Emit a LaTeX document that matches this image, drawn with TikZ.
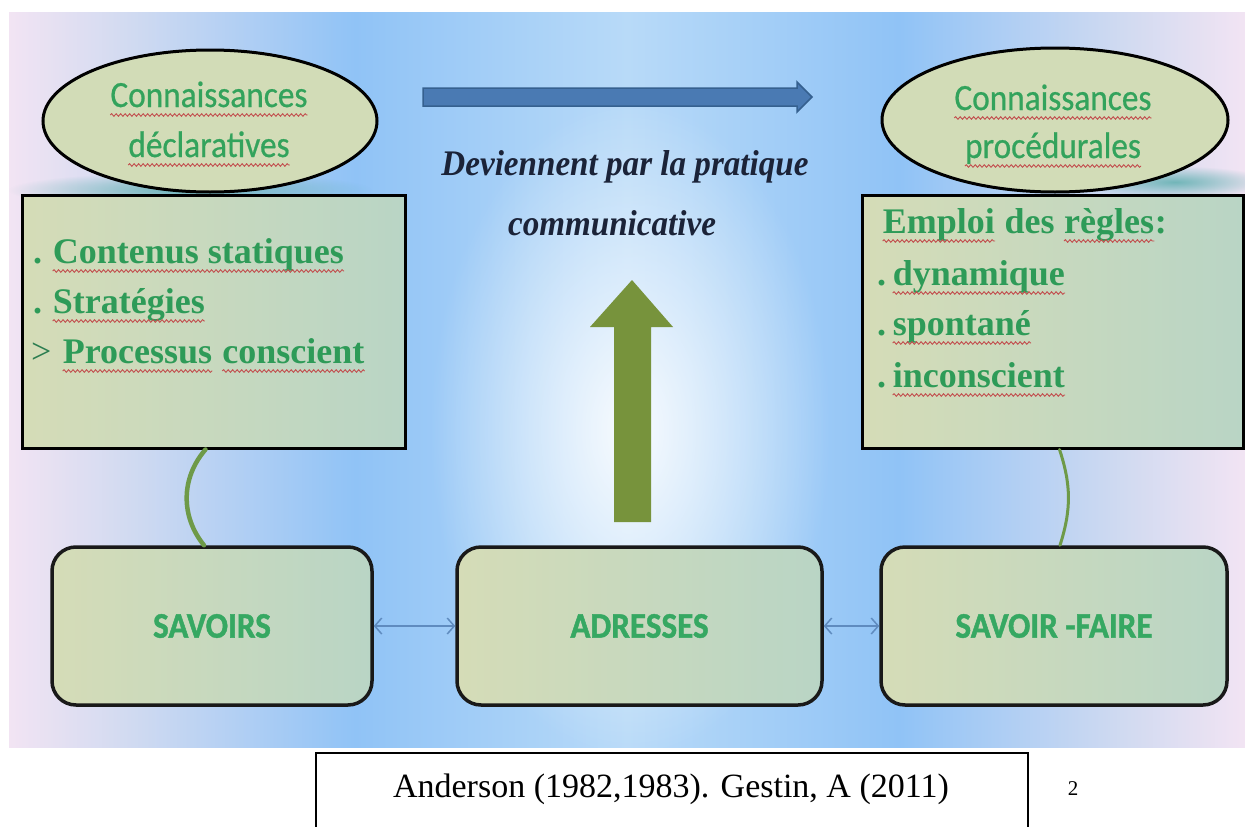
\documentclass[tikz,border=0pt]{standalone}
\usepackage{fontspec}
\usetikzlibrary{shapes.geometric,fadings,arrows.meta,calc,decorations.pathmorphing}
\setmainfont{Liberation Serif}
\newfontfamily\calib[FakeStretch=0.92,FakeBold=1.2]{Carlito}
\newfontfamily\calibst[FakeStretch=0.9,FakeBold=0.6]{Carlito}
\newfontfamily\serst[FakeStretch=0.92]{Liberation Serif}
\definecolor{bgA}{HTML}{F2E4F3}
\definecolor{bgB}{HTML}{D0DAF1}
\definecolor{bgC}{HTML}{90C3F6}
\definecolor{bgD}{HTML}{B8DAF8}
\definecolor{teal}{HTML}{5FAFAF}
\definecolor{ellfill}{HTML}{D2DCB7}
\definecolor{boxL}{HTML}{D5DCB7}
\definecolor{boxR}{HTML}{B9D5C5}
\definecolor{txtgreen}{HTML}{2E9B58}
\definecolor{darkgreen}{HTML}{2A7D4F}
\definecolor{etxtgreen}{HTML}{33A35C}
\definecolor{btxtgreen}{HTML}{36A862}
\definecolor{navy}{HTML}{1B2338}
\definecolor{arrowblue}{HTML}{4A7AB3}
\definecolor{arrowblueD}{HTML}{35608F}
\definecolor{olive}{HTML}{77933C}
\definecolor{connA}{HTML}{6E9A48}
\definecolor{dblblue}{HTML}{5F8BBF}
\definecolor{squigred}{HTML}{C24E4E}
\pgfdeclarehorizontalshading{bgshade}{100bp}{color(0bp)=(bgA); color(25bp)=(bgA); color(30bp)=(bgB); color(39bp)=(bgC); color(50bp)=(bgD); color(61bp)=(bgC); color(70bp)=(bgB); color(75bp)=(bgA); color(100bp)=(bgA)}
\tikzfading[name=softout, inner color=transparent!0, outer color=transparent!100]
\newcommand\squig[1]{\tikz[baseline=(sq.base)]{\node[inner sep=0pt, anchor=base west] (sq) at (0,0) {#1};
  \draw[squigred, line width=0.9pt, decorate, decoration={snake, amplitude=1.3pt, segment length=4.5pt}] ([yshift=-8pt]sq.base west) -- ([yshift=-8pt]sq.base east);}}
\tikzset{
  ell/.style={ellipse, draw=black, line width=3pt, fill=ellfill, inner sep=0pt},
  sqbox/.style={rectangle, draw=black, line width=3pt, left color=boxL, right color=boxR, inner sep=0pt},
  rbox/.style={rectangle, rounded corners=24pt, draw=black!90, line width=3.5pt, left color=boxL, right color=boxR, inner sep=0pt,
    font=\calib\bfseries\fontsize{36}{40}\selectfont, text=btxtgreen},
  lt/.style={inner sep=0pt, font=\bfseries\fontsize{36}{44}\selectfont, text=txtgreen},
  et/.style={inner sep=0pt, font=\calibst\fontsize{37}{44}\selectfont, text=etxtgreen},
  it/.style={inner sep=0pt, font=\serst\bfseries\itshape\fontsize{36}{44}\selectfont, text=navy},
  dbl/.style={{Straight Barb[length=7pt,width=16pt]}-{Straight Barb[length=7pt,width=16pt]}, draw=dblblue, line width=1.5pt},
}
\begin{document}
\begin{tikzpicture}[x=1pt,y=-1pt]
\useasboundingbox (0,0) rectangle (1245,827);
\fill[white] (0,0) rectangle (1245,827);
% background
\shade[shading=bgshade] (9,12) rectangle (1245,747);
\fill[white, path fading=softout, fill opacity=0.9] (630,430) ellipse [x radius=200pt, y radius=330pt];
% teal shadows
\begin{scope}
\clip (9,12) rectangle (1245,747);
\fill[teal, path fading=softout, fill opacity=0.85] (190,190) ellipse [x radius=182pt, y radius=18pt];
\fill[teal, path fading=softout, fill opacity=0.85] (1175,182) ellipse [x radius=95pt, y radius=16pt];
\end{scope}
% ellipses
\node[ell, minimum width=334pt, minimum height=142pt] (lell) at (210,121) {};
\node[ell, minimum width=346pt, minimum height=144pt] (rell) at (1055,120) {};
\node[et, anchor=base] (le1) at (209,107) {\squig{Connaissances}};
\node[et, anchor=base] (le2) at (209,157) {\squig{déclaratives}};
\node[et, anchor=base] (re1) at (1053,110) {\squig{Connaissances}};
\node[et, anchor=base] (re2) at (1053,158) {\squig{procédurales}};
% boxes
\node[sqbox, minimum width=383pt, minimum height=253pt] (lbox) at (213.5,321.5) {};
\node[sqbox, minimum width=381pt, minimum height=253pt] (rbox) at (1052.5,321.5) {};
\node[lt, anchor=base west] (l1) at (33,263) {.\hspace{10pt}\squig{Contenus statiques}};
\node[lt, anchor=base west] (l2) at (33,313) {.\hspace{10pt}\squig{Stratégies}};
\node[lt, anchor=base west] (l3) at (31,363) {\makebox[31pt][l]{\mdseries\textcolor{darkgreen}{>}}\squig{Processus} \squig{conscient}};
\node[lt, anchor=base west] (r1) at (882,233) {\squig{Emploi} des \squig{règles}:};
\node[lt, anchor=base west] (r2) at (877,285) {.\hspace{6pt}\squig{dynamique}};
\node[lt, anchor=base west] (r3) at (877,335) {.\hspace{6pt}\squig{spontané}};
\node[lt, anchor=base west] (r4) at (877,387) {.\hspace{6pt}\squig{inconscient}};
% top arrow and text
\fill[arrowblue, draw=arrowblueD, line width=1.5pt] (423,88) -- (797,88) -- (797,82) -- (812,97) -- (797,112) -- (797,106) -- (423,106) -- cycle;
\node[it, anchor=base] (t1) at (625,175) {Deviennent par la pratique};
\node[it, anchor=base] (t2) at (612,235) {communicative};
% green arrow
\fill[olive] (632,280) -- (673,327) -- (651,327) -- (651,522) -- (614,522) -- (614,327) -- (590,327) -- cycle;
% bottom boxes
\node[rbox, minimum width=320pt, minimum height=158pt] (sav) at (212,626) {SAVOIRS};
\node[rbox, minimum width=365pt, minimum height=158pt] (adr) at (639.5,626) {ADRESSES};
\node[rbox, minimum width=346pt, minimum height=158pt] (sf) at (1054,626) {SAVOIR -FAIRE};
% connectors
\draw[connA, line width=4.5pt, line cap=round] ([xshift=-8pt]lbox.south) to[bend right=40] ([xshift=-8pt]sav.north);
\draw[connA, line width=3pt, line cap=round] ([xshift=7pt]rbox.south) to[bend left=18] ([xshift=6pt]sf.north);
\draw[dbl] (sav.east) -- (adr.west);
\draw[dbl] (adr.east) -- (sf.west);
% reference
\node[draw, line width=1.5pt, minimum width=712pt, minimum height=200pt, anchor=north] (refbox) at (672,752) {};
\node[inner sep=0pt, anchor=base, font=\fontsize{34}{40}\selectfont] (cite) at (671,797) {Anderson (1982,1983). Gestin, A (2011)};
\node[inner sep=0pt, anchor=base, font=\fontsize{21}{25}\selectfont] (pg) at (1073,795) {2};
\end{tikzpicture}
\end{document}
